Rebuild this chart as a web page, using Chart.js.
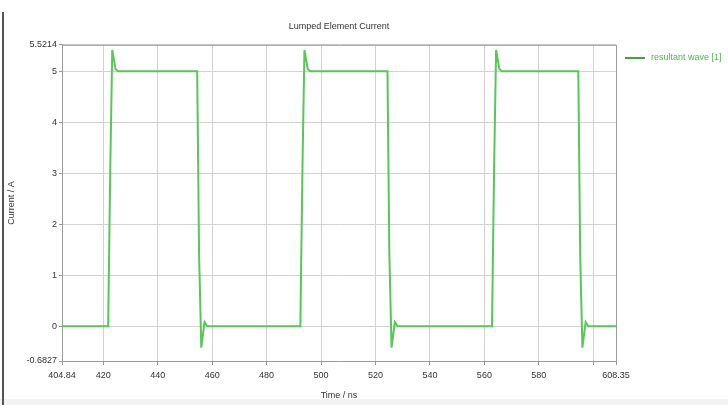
<!DOCTYPE html>
<html>
<head>
<meta charset="utf-8">
<script src="https://cdn.jsdelivr.net/npm/chart.js@4/dist/chart.umd.min.js"></script>
<style>
  html, body { margin: 0; padding: 0; background: #fff; }
  #wrap { width: 728px; height: 405px; }
</style>
</head>
<body>
<div id="wrap"><canvas id="c" width="728" height="405"></canvas></div>
<script>
// Sampled lumped element current: time (ns) and current (A)
const timeNs = [
  404.84, 421.8, 422.6, 423.3, 424.5, 425.4,
  454.5, 455.2, 456.0, 457.2, 458.2,
  492.4, 493.2, 493.9, 495.1, 496.0,
  524.4, 525.1, 525.9, 527.1, 528.1,
  562.8, 563.6, 564.3, 565.5, 566.4,
  594.5, 595.2, 596.0, 597.2, 598.2,
  608.35
];
const currentA = [
  0, 0, 3.2, 5.42, 5.05, 5.0,
  5.0, 1.4, -0.42, 0.08, 0,
  0, 3.2, 5.42, 5.05, 5.0,
  5.0, 1.4, -0.42, 0.08, 0,
  0, 3.2, 5.42, 5.05, 5.0,
  5.0, 1.4, -0.42, 0.08, 0,
  0
];

const xTickValues = [404.84, 420, 440, 460, 480, 500, 520, 540, 560, 580, 600, 608.35];
const xTickLabels = ['404.84', '420', '440', '460', '480', '500', '520', '540', '560', '580', '', '608.35'];
const yTickValues = [-0.6827, 0, 1, 2, 3, 4, 5, 5.5214];
const yTickLabels = ['-0.6827', '0', '1', '2', '3', '4', '5', '5.5214'];

const seriesName = 'resultant wave [1]';
const lineColor = '#55c855';
const textColor = '#333333';
const gridColor = '#d2d2d2';
const fontFamily = '"Liberation Sans", Arial, sans-serif';

const points = timeNs.map((t, i) => ({ x: t, y: currentA[i] }));

// White background, window frame edge and the custom legend entry
const decorations = {
  id: 'decorations',
  beforeDraw(chart) {
    const ctx = chart.ctx;
    ctx.save();
    ctx.fillStyle = '#ffffff';
    ctx.fillRect(0, 0, chart.width, chart.height);
    ctx.fillStyle = '#f2f2f2';
    ctx.fillRect(0, 399, chart.width, chart.height - 399);
    ctx.restore();
  },
  afterDraw(chart) {
    const ctx = chart.ctx;
    ctx.save();
    ctx.strokeStyle = '#555555';
    ctx.lineWidth = 2;
    ctx.beginPath();
    ctx.moveTo(3, 12);
    ctx.lineTo(3, 405);
    ctx.stroke();

    ctx.strokeStyle = '#3fa63f';
    ctx.lineWidth = 2;
    ctx.beginPath();
    ctx.moveTo(625, 58);
    ctx.lineTo(645, 58);
    ctx.stroke();
    ctx.fillStyle = '#4db84d';
    ctx.font = '9px ' + fontFamily;
    ctx.textBaseline = 'middle';
    ctx.textAlign = 'left';
    ctx.fillText(seriesName, 651, 58);
    ctx.restore();
  }
};

// Right and top border of the plot box
const plotBox = {
  id: 'plotBox',
  afterDraw(chart) {
    const a = chart.chartArea;
    const ctx = chart.ctx;
    ctx.save();
    ctx.strokeStyle = '#9a9a9a';
    ctx.lineWidth = 1;
    ctx.beginPath();
    ctx.moveTo(a.left, a.top + 0.5);
    ctx.lineTo(a.right + 0.5, a.top + 0.5);
    ctx.lineTo(a.right + 0.5, a.bottom);
    ctx.stroke();
    ctx.restore();
  }
};

new Chart(document.getElementById('c'), {
  type: 'line',
  data: {
    datasets: [{
      label: seriesName,
      data: points,
      borderColor: lineColor,
      borderWidth: 2,
      pointRadius: 0,
      tension: 0,
      fill: false
    }]
  },
  options: {
    responsive: false,
    animation: false,
    layout: { padding: { left: 0, right: 112, top: 0, bottom: 0 } },
    plugins: {
      legend: { display: false },
      tooltip: { enabled: false },
      title: {
        display: true,
        text: 'Lumped Element Current',
        fullSize: false,
        color: textColor,
        font: { family: fontFamily, size: 9, weight: 'normal' },
        padding: { top: 21, bottom: 13 }
      }
    },
    scales: {
      x: {
        type: 'linear',
        min: 404.84,
        max: 608.35,
        afterBuildTicks(scale) { scale.ticks = xTickValues.map(v => ({ value: v })); },
        afterFit(scale) { scale.height = 44; },
        ticks: {
          autoSkip: false,
          maxRotation: 0,
          color: textColor,
          font: { family: fontFamily, size: 9 },
          padding: 5,
          callback: (v, i) => xTickLabels[i]
        },
        grid: { color: gridColor, tickLength: 4, tickColor: '#999999' },
        border: { color: '#9a9a9a', width: 1 },
        title: {
          display: true,
          text: 'Time / ns',
          color: textColor,
          font: { family: fontFamily, size: 9 },
          padding: { top: 0, bottom: 4 }
        }
      },
      y: {
        type: 'linear',
        min: -0.6827,
        max: 5.5214,
        afterBuildTicks(scale) { scale.ticks = yTickValues.map(v => ({ value: v })); },
        afterFit(scale) { scale.width = 62; },
        ticks: {
          autoSkip: false,
          color: textColor,
          font: { family: fontFamily, size: 9 },
          padding: 2,
          callback: (v, i) => yTickLabels[i]
        },
        grid: { color: gridColor, tickLength: 3, tickColor: '#999999' },
        border: { color: '#9a9a9a', width: 1 },
        title: {
          display: true,
          text: 'Current / A',
          color: textColor,
          font: { family: fontFamily, size: 9 },
          padding: { top: 6, bottom: 0 }
        }
      }
    }
  },
  plugins: [decorations, plotBox]
});
</script>
</body>
</html>
